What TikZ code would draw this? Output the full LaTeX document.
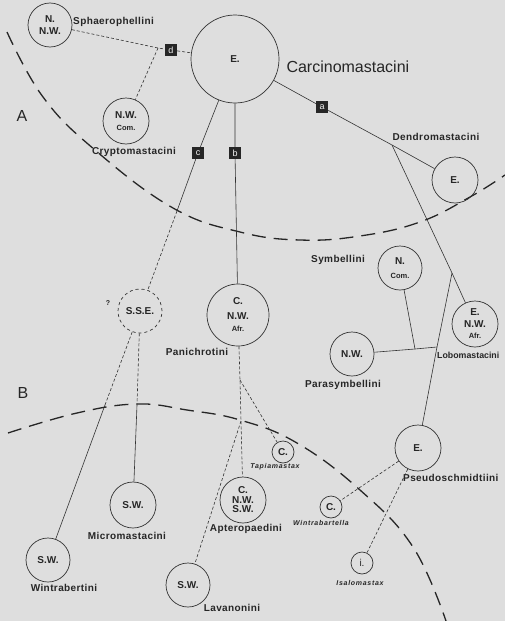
\documentclass[tikz,border=0pt]{standalone}
\usepackage{fontspec}
\setmainfont{Liberation Sans}
\newfontfamily\spacedfont[LetterSpace=4]{Liberation Sans}
\newfontfamily\genusfont[LetterSpace=10]{Liberation Sans}
\usetikzlibrary{positioning}
\newcommand{\minor}[1]{{\fontsize{7.5}{9}\selectfont #1}}

\begin{document}
\begin{tikzpicture}[x=1pt, y=-1pt,
    every node/.style={text=black!85},
    area/.style={circle, draw=black!80, line width=0.7pt, inner sep=0pt, align=center, font=\bfseries\fontsize{10}{11.5}\selectfont},
    tribe/.style={font=\spacedfont\bfseries\fontsize{10}{11}\selectfont, inner sep=1pt},
    genus/.style={font=\genusfont\bfseries\itshape\fontsize{7}{8}\selectfont, inner sep=1pt},
    tag/.style={fill=black!85, text=black!5, minimum size=12pt, inner sep=0pt, font=\fontsize{9}{9}\selectfont},
    link/.style={draw=black!80, line width=0.6pt},
    weak/.style={link, dash pattern=on 3pt off 2pt},
    zone/.style={draw=black!85, line width=1.3pt, dash pattern=on 14pt off 8pt}]
    \path[use as bounding box, fill=black!13] (0,0) rectangle (505,621);
    % Zone boundaries
    \draw[zone] plot[smooth, tension=0.7] coordinates {(7,32) (43,97) (95,150) (173,208) (240,232) (300,240) (360,236) (420,222) (470,197) (505,175)};
    \draw[zone] plot[smooth, tension=0.7] coordinates {(8,433) (77,413) (137,404) (187,410) (240,420) (297,443) (360,490) (413,547) (446,621)};
    \node[font=\fontsize{16}{16}\selectfont] (zoneA) at (22,116) {A};
    \node[font=\fontsize{16}{16}\selectfont] (zoneB) at (23,393) {B};
    % Areas
    \node[area, minimum size=44pt] (sphaero) at (50,25) {N.\\N.W.};
    \node[area, minimum size=88pt] (bigE) at (235,59) {E.};
    \node[area, minimum size=46pt] (crypto) at (126,121) {N.W.\\[1pt]\minor{Com.}};
    \node[area, minimum size=46pt] (dendro) at (455,180) {E.};
    \node[area, minimum size=44pt, dashed] (sse) at (140,311) {S.S.E.};
    \node[area, minimum size=62pt] (panich) at (238,315) {C.\\[3pt]N.W.\\[1pt]\minor{Afr.}};
    \node[area, minimum size=44pt] (symb) at (400,268) {N.\\[3pt]\minor{Com.}};
    \node[area, minimum size=44pt] (parasymb) at (352,354) {N.W.};
    \node[area, minimum size=46pt] (lobo) at (475,324) {E.\\N.W.\\\minor{Afr.}};
    \node[area, minimum size=46pt] (pseudo) at (418,448) {E.};
    \node[area, minimum size=22pt] (wbartella) at (331,507) {C.};
    \node[area, minimum size=22pt, font=\fontsize{10}{11}\selectfont] (isalo) at (362,563) {i.};
    \node[area, minimum size=22pt] (tapia) at (283,452) {C.};
    \node[area, minimum size=46pt] (aptero) at (243,500) {C.\\[-2pt]N.W.\\[-2pt]S.W.};
    \node[area, minimum size=44pt] (lavan) at (188,585) {S.W.};
    \node[area, minimum size=46pt] (micro) at (133,505) {S.W.};
    \node[area, minimum size=44pt] (wbertini) at (48,560) {S.W.};
    % Character boxes
    \node[tag] (boxd) at (171,50) {d};
    \node[tag] (boxc) at (198,153) {c};
    \node[tag] (boxb) at (235,153) {b};
    \node[tag] (boxa) at (322,107) {a};
    % Branch points
    \coordinate (jd) at (158,48);
    \coordinate (ca) at (177,211);
    \coordinate (j1) at (392,145);
    \coordinate (j2) at (452,273);
    \coordinate (j3) at (437,347);
    \coordinate (j4) at (415,349);
    \coordinate (jp) at (240,380);
    \coordinate (jq) at (241,421);
    \coordinate (jw) at (105,405);
    \coordinate (jm) at (137,405);
    % Labels
    \node[tribe, anchor=west] (sphaeroL) at (72,22) {Sphaerophellini};
    \node[font=\fontsize{16}{18}\selectfont, anchor=west] (carcL) at (283,67) {Carcinomastacini};
    \node[tribe] (cryptoL) at (134,152) {Cryptomastacini};
    \node[tribe] (dendroL) at (436,137) {Dendromastacini};
    \node[tribe] (symbL) at (338,260) {Symbellini};
    \node[tribe] (parasymbL) at (343,385) {Parasymbellini};
    \node[tribe, anchor=west, font=\bfseries\fontsize{8.8}{10}\selectfont] (loboL) at (436,355) {Lobomastacini};
    \node[tribe] (panichL) at (197,352) {Panichrotini};
    \node[font=\bfseries\fontsize{7}{8}\selectfont] (qmark) at (108,303) {?};
    \node[genus] (tapiaL) at (275,467) {Tapiamastax};
    \node[tribe] (apteroL) at (246,529) {Apteropaedini};
    \node[genus] (wbartellaL) at (321,523) {Wintrabartella};
    \node[tribe, anchor=west] (pseudoL) at (402,478) {Pseudoschmidtiini};
    \node[genus] (isaloL) at (360,583) {Isalomastax};
    \node[tribe] (microL) at (127,536) {Micromastacini};
    \node[tribe] (wbertiniL) at (64,588) {Wintrabertini};
    \node[tribe] (lavanL) at (232,608) {Lavanonini};
    % Connectors
    \draw[link] (bigE) -- (boxa) -- (j1) -- (dendro);
    \draw[link] (j1) -- (j2) -- (lobo);
    \draw[link] (j2) -- (j3) -- (pseudo);
    \draw[link] (parasymb) -- (j4) -- (j3);
    \draw[link] (symb) -- (j4);
    \draw[link] (bigE) -- (boxb) -- (panich);
    \draw[link] (bigE) -- (boxc) -- (ca);
    \draw[weak] (ca) -- (sse);
    \draw[weak] (sphaero) -- (jd) -- (boxd) -- (bigE);
    \draw[weak] (jd) -- (crypto);
    \draw[weak] (sse) -- (jw);
    \draw[link] (jw) -- (wbertini);
    \draw[weak] (sse) -- (jm);
    \draw[link] (jm) -- (micro);
    \draw[weak] (panich) -- (jp) -- (jq) -- (aptero);
    \draw[weak] (jp) -- (tapia);
    \draw[weak] (jq) -- (lavan);
    \draw[weak] (pseudo) -- (wbartella);
    \draw[weak] (pseudo) -- (isalo);
\end{tikzpicture}
\end{document}
